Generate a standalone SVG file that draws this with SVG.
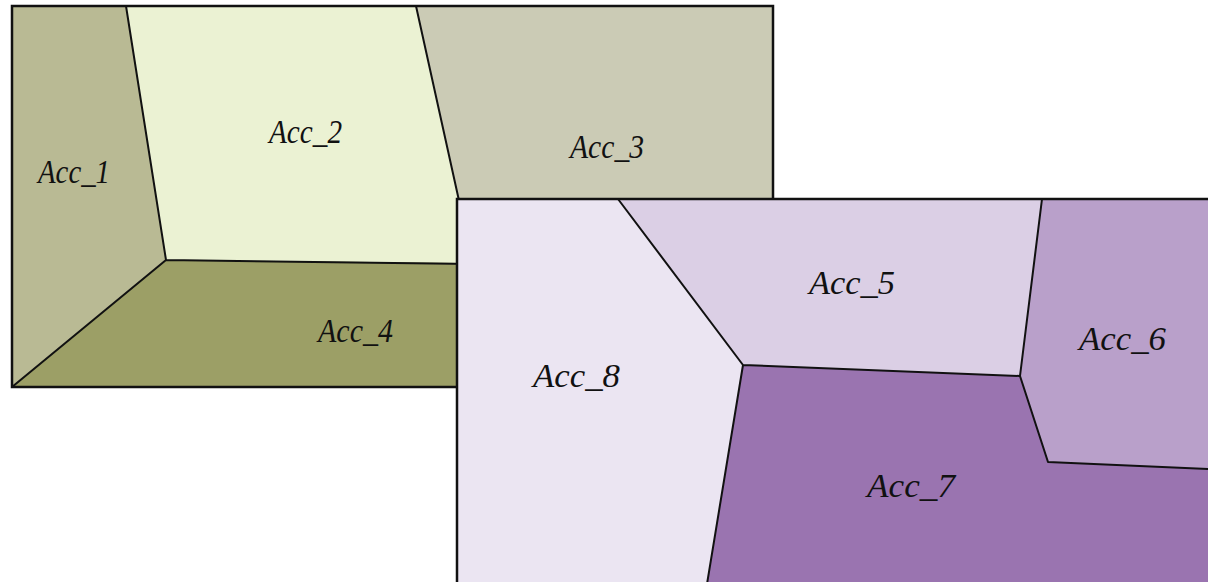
<svg xmlns="http://www.w3.org/2000/svg" width="1208" height="582" viewBox="0 0 1208 582">
<style>
.e{fill:none;stroke:#111;stroke-width:2;stroke-linejoin:round}
.b{fill:none;stroke:#111;stroke-width:2.5;stroke-linejoin:miter}
.t{font-family:"Liberation Serif","Times New Roman",serif;font-style:italic;font-size:33px;fill:#111}
</style>
<rect width="1208" height="582" fill="#fff"/>
<g id="left-panel">
<g id="acc1"><polygon points="12,6 126,6 166,260 12,387" fill="#b9ba94"/><text class="t" x="38" y="183" textLength="72" lengthAdjust="spacingAndGlyphs">Acc_1</text></g>
<g id="acc2"><polygon points="126,6 416,6 473,264 166,260" fill="#ebf2d3"/><text class="t" x="269" y="143" textLength="73" lengthAdjust="spacingAndGlyphs">Acc_2</text></g>
<g id="acc3"><polygon points="416,6 773,6 773,266 473,264" fill="#cbcbb5"/><text class="t" x="570" y="158" textLength="74" lengthAdjust="spacingAndGlyphs">Acc_3</text></g>
<g id="acc4"><polygon points="166,260 773,266 773,387 12,387" fill="#9c9f66"/><text class="t" x="318" y="342" textLength="75" lengthAdjust="spacingAndGlyphs">Acc_4</text></g>
<g id="left-edges">
<path class="e" d="M126,6 L166,260 L12,387 M166,260 L473,264 L773,266 M416,6 L473,264"/>
<rect class="b" x="12" y="6" width="761" height="381"/>
</g>
</g>
<g id="right-panel">
<g id="acc8"><polygon points="457,199 618,199 743,365 707,582 457,582" fill="#ebe5f2"/><text class="t" x="533" y="387" textLength="87" lengthAdjust="spacingAndGlyphs">Acc_8</text></g>
<g id="acc5"><polygon points="618,199 1042,199 1020,376 743,365" fill="#dbcfe5"/><text class="t" x="809" y="294" textLength="86" lengthAdjust="spacingAndGlyphs">Acc_5</text></g>
<g id="acc6"><polygon points="1042,199 1210,199 1210,469 1048,462 1020,376" fill="#b9a0ca"/><text class="t" x="1079" y="350" textLength="87" lengthAdjust="spacingAndGlyphs">Acc_6</text></g>
<g id="acc7"><polygon points="743,365 1020,376 1048,462 1210,469 1210,584 707,584" fill="#9a74b0"/><text class="t" x="867" y="497" textLength="88" lengthAdjust="spacingAndGlyphs">Acc_7</text></g>
<g id="right-edges">
<path class="e" d="M618,199 L743,365 L1020,376 L1042,199 M1020,376 L1048,462 L1210,469 M743,365 L707,584"/>
<path class="b" d="M457,584 L457,199 L1210,199"/>
</g>
</g>
</svg>
